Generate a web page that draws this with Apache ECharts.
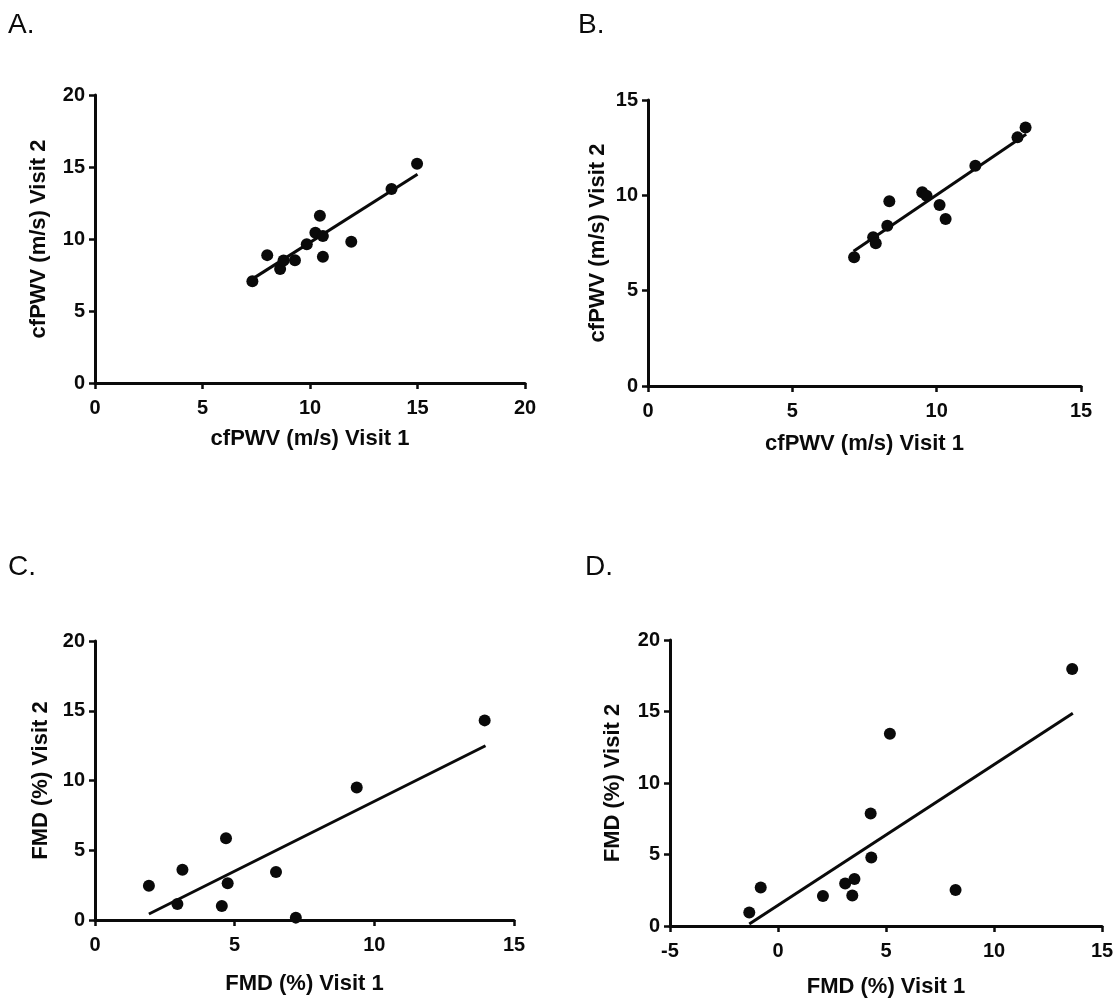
<!DOCTYPE html>
<html>
<head>
<meta charset="utf-8">
<title>Visit 1 vs Visit 2</title>
<script src="https://cdn.jsdelivr.net/npm/echarts@6/dist/echarts.min.js"></script>
<style>
  html, body { margin: 0; padding: 0; background: #fff; }
  #chart { width: 1119px; height: 1000px; }
</style>
</head>
<body>
<div id="chart"></div>
<script>
// Panel captions and axis titles
const panelLabels = ['A.', 'B.', 'C.', 'D.'];
const xNames = ['cfPWV (m/s) Visit 1', 'cfPWV (m/s) Visit 1', 'FMD (%) Visit 1', 'FMD (%) Visit 1'];
const yNames = ['cfPWV (m/s) Visit 2', 'cfPWV (m/s) Visit 2', 'FMD (%) Visit 2', 'FMD (%) Visit 2'];

// Axis ranges: [min, max, interval]
const xRanges = [[0, 20, 5], [0, 15, 5], [0, 15, 5], [-5, 15, 5]];
const yRanges = [[0, 20, 5], [0, 15, 5], [0, 20, 5], [0, 20, 5]];

// A: cfPWV, visit 1 vs visit 2
const aVisit1 = [7.32, 8.01, 8.61, 8.77, 9.30, 9.85, 10.25, 10.46, 10.60, 10.60, 11.92, 13.79, 14.98];
const aVisit2 = [7.06, 8.88, 7.92, 8.50, 8.53, 9.63, 10.44, 11.61, 10.20, 8.76, 9.81, 13.48, 15.23];
const aFitX = [7.4, 15.0];
const aFitY = [7.3, 14.5];

// B: cfPWV, visit 1 vs visit 2
const bVisit1 = [7.14, 7.80, 7.89, 8.29, 8.36, 9.50, 9.65, 10.10, 10.31, 11.34, 12.80, 13.08];
const bVisit2 = [6.75, 7.80, 7.49, 8.41, 9.69, 10.16, 9.98, 9.49, 8.76, 11.55, 13.04, 13.56];
const bFitX = [7.12, 13.1];
const bFitY = [7.07, 13.2];

// C: FMD, visit 1 vs visit 2
const cVisit1 = [1.93, 2.95, 3.13, 4.54, 4.69, 4.75, 6.48, 7.19, 9.37, 13.95];
const cVisit2 = [2.46, 1.15, 3.61, 1.01, 5.86, 2.63, 3.44, 0.17, 9.50, 14.31];
const cFitX = [1.93, 13.98];
const cFitY = [0.43, 12.49];

// D: FMD, visit 1 vs visit 2
const dVisit1 = [-1.33, -0.80, 2.08, 3.11, 3.54, 3.44, 4.29, 4.32, 5.18, 8.22, 13.62];
const dVisit2 = [0.95, 2.70, 2.09, 2.98, 3.28, 2.14, 7.86, 4.79, 13.44, 2.51, 17.98];
const dFitX = [-1.33, 13.65];
const dFitY = [0.14, 14.88];

const panels = [
  { x: aVisit1, y: aVisit2, fx: aFitX, fy: aFitY },
  { x: bVisit1, y: bVisit2, fx: bFitX, fy: bFitY },
  { x: cVisit1, y: cVisit2, fx: cFitX, fy: cFitY },
  { x: dVisit1, y: dVisit2, fx: dFitX, fy: dFitY }
];

// Layout of the four plot areas (px)
const grids = [
  { left: 95,  top: 95,  width: 430, height: 288 },
  { left: 648, top: 100, width: 433, height: 286 },
  { left: 95,  top: 641, width: 419, height: 279 },
  { left: 670, top: 640, width: 432, height: 286 }
];
const xNameGaps = [45, 47, 53, 50];
const yNameGaps = [45, 39, 43, 46];
const labelPos = [
  { left: 8,   top: 11 },
  { left: 578, top: 11 },
  { left: 8,   top: 553 },
  { left: 585, top: 553 }
];

const FONT = '"Liberation Sans", Arial, sans-serif';
const INK = '#0a0a0a';

const axisCommon = {
  type: 'value',
  nameLocation: 'middle',
  nameTextStyle: { fontFamily: FONT, fontSize: 22, fontWeight: 'bold', color: INK },
  axisLine: { show: true, onZero: false, lineStyle: { color: INK, width: 3 } },
  axisTick: { show: true, inside: false, length: 6, lineStyle: { color: INK, width: 2.5 } },
  axisLabel: { fontFamily: FONT, fontSize: 20, fontWeight: 'bold', color: INK },
  splitLine: { show: false }
};

const xAxis = panels.map((p, i) => Object.assign({}, axisCommon, {
  gridIndex: i,
  name: xNames[i],
  nameGap: xNameGaps[i],
  min: xRanges[i][0], max: xRanges[i][1], interval: xRanges[i][2],
  axisLabel: Object.assign({}, axisCommon.axisLabel, { margin: 15 })
}));

const yAxis = panels.map((p, i) => Object.assign({}, axisCommon, {
  gridIndex: i,
  name: yNames[i],
  nameGap: yNameGaps[i],
  min: yRanges[i][0], max: yRanges[i][1], interval: yRanges[i][2],
  axisLabel: Object.assign({}, axisCommon.axisLabel, { margin: 10 })
}));

const series = [];
panels.forEach((p, i) => {
  series.push({
    type: 'line',
    xAxisIndex: i, yAxisIndex: i,
    data: p.fx.map((v, k) => [v, p.fy[k]]),
    symbol: 'none',
    lineStyle: { color: INK, width: 3 },
    z: 2,
    silent: true
  });
  series.push({
    type: 'scatter',
    xAxisIndex: i, yAxisIndex: i,
    data: p.x.map((v, k) => [v, p.y[k]]),
    symbol: 'circle',
    symbolSize: 12,
    itemStyle: { color: INK, opacity: 1 },
    z: 3
  });
});

const chart = echarts.init(document.getElementById('chart'), null, { renderer: 'canvas' });
chart.setOption({
  backgroundColor: '#fff',
  animation: false,
  title: panelLabels.map((t, i) => ({
    text: t,
    left: labelPos[i].left,
    top: labelPos[i].top,
    padding: 0,
    textStyle: { fontFamily: FONT, fontSize: 28, fontWeight: 'normal', color: INK }
  })),
  grid: grids,
  xAxis: xAxis,
  yAxis: yAxis,
  series: series
});
</script>
</body>
</html>
